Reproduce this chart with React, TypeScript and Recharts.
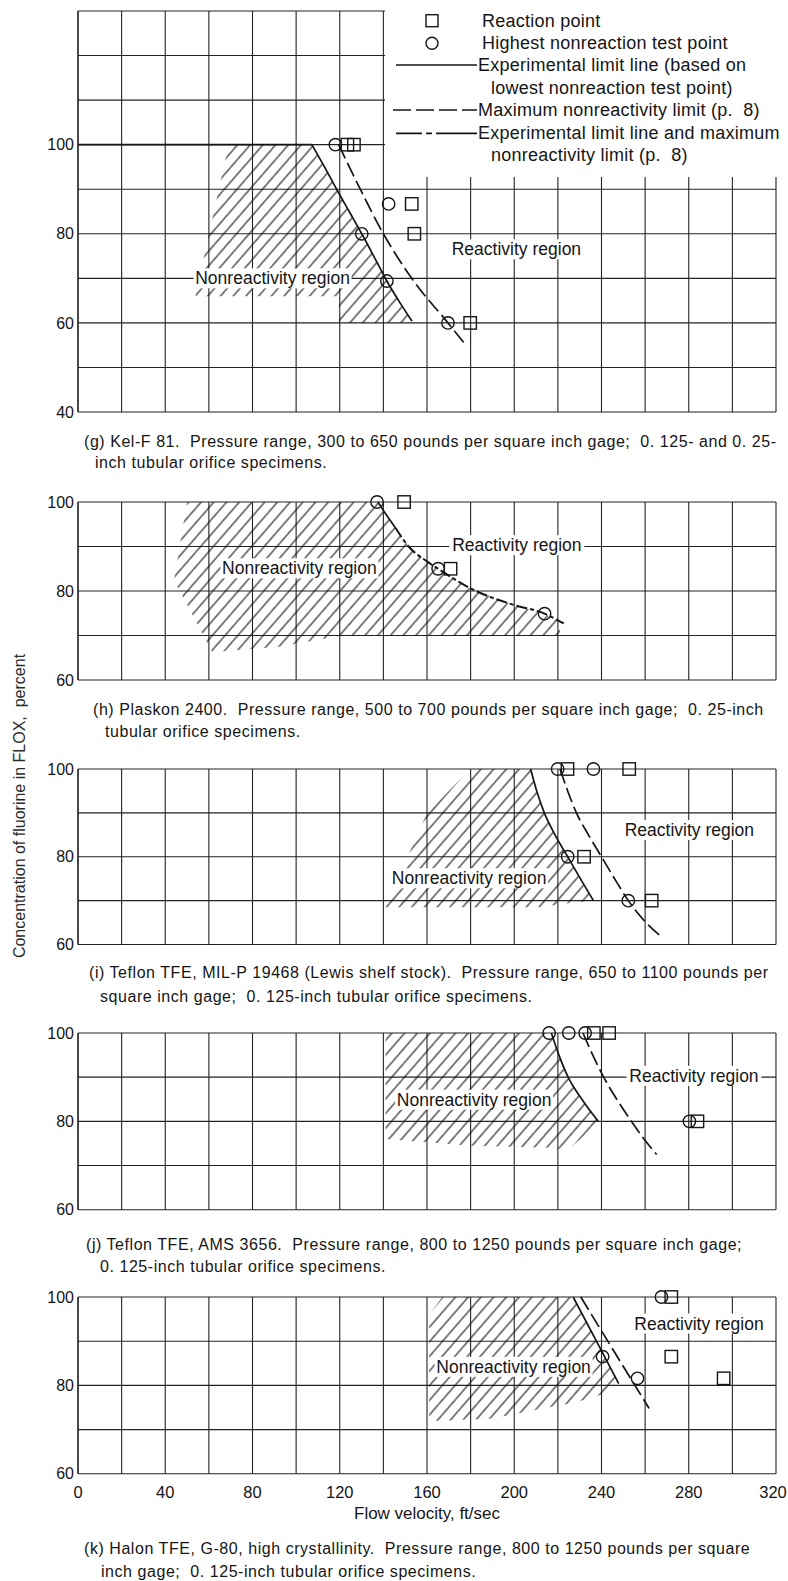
import React from 'react';
import { ComposedChart, XAxis, YAxis, CartesianGrid, Area, Line, Scatter, ReferenceDot } from 'recharts';

const FONT = "'Liberation Sans', Arial, sans-serif";
const INK = '#151515';

// shared axes
const X_GRID = [0, 20, 40, 60, 80, 100, 120, 140, 160, 180, 200, 220, 240, 260, 280, 300, 320];
const X_LABELS = [0, 40, 80, 120, 160, 200, 240, 280, 320];
const Y_GRID_G = [40, 50, 60, 70, 80, 90, 100, 110, 120, 130];
const Y_LABELS_G = [40, 60, 80, 100];
const Y_GRID = [60, 70, 80, 90, 100];
const Y_LABELS = [60, 80, 100];

type Pt = { x: number; y: number };
type HatchPt = { x: number; r: [number, number] };

// (g) Kel-F 81
const gReaction: Pt[] = [{ x: 123.5, y: 100 }, { x: 126.5, y: 100 }, { x: 153, y: 86.7 }, { x: 154.2, y: 80 }, { x: 179.8, y: 60 }];
const gNonreaction: Pt[] = [{ x: 118, y: 100 }, { x: 142.4, y: 86.7 }, { x: 130.1, y: 80 }, { x: 141.6, y: 69.4 }, { x: 169.6, y: 60 }];
const gLimitFlat: Pt[] = [{ x: 0, y: 100 }, { x: 107.2, y: 100 }];
const gLimit: Pt[] = [
  { x: 107.2, y: 100 }, { x: 113, y: 95 }, { x: 119, y: 89.6 }, { x: 124.8, y: 84.6 }, { x: 130.1, y: 80 },
  { x: 136, y: 74.6 }, { x: 141.6, y: 69.4 }, { x: 147.5, y: 64.6 }, { x: 153.1, y: 60.4 },
];
const gMaxLimit: Pt[] = [
  { x: 119.5, y: 100 }, { x: 129.4, y: 90 }, { x: 140, y: 80 }, { x: 153, y: 70 }, { x: 169.6, y: 60 }, { x: 177, y: 55.5 },
];
const gHatch: HatchPt[] = [
  { x: 53.8, r: [66, 66] }, { x: 69, r: [66, 100] }, { x: 107.2, r: [66, 100] }, { x: 113, r: [66, 95] },
  { x: 119, r: [66, 89.6] }, { x: 119.5, r: [66, 89.2] }, { x: 119.6, r: [60, 89.1] }, { x: 124.8, r: [60, 84.6] },
  { x: 130.1, r: [60, 80] }, { x: 136, r: [60, 74.6] }, { x: 141.6, r: [60, 69.4] }, { x: 147.5, r: [60, 64.6] },
  { x: 153.1, r: [60.4, 60.4] },
];

// (h) Plaskon 2400
const hReaction: Pt[] = [{ x: 149.5, y: 100 }, { x: 170.8, y: 85 }];
const hNonreaction: Pt[] = [{ x: 137.1, y: 100 }, { x: 165.1, y: 85 }, { x: 213.9, y: 74.9 }];
const hLimitTop: Pt[] = [{ x: 137.5, y: 100 }, { x: 141.5, y: 97 }, { x: 145.5, y: 94.2 }];
const hLimit: Pt[] = [
  { x: 145.5, y: 94.2 }, { x: 151.6, y: 90 }, { x: 160.8, y: 86.4 }, { x: 165.1, y: 85 }, { x: 180.7, y: 80.4 },
  { x: 199, y: 77 }, { x: 213.9, y: 74.9 }, { x: 222.7, y: 72.7 },
];
const hHatch: HatchPt[] = [
  { x: 44, r: [82.4, 82.4] }, { x: 50, r: [76.9, 100] }, { x: 61.5, r: [66.3, 100] }, { x: 91.6, r: [67.4, 100] },
  { x: 121, r: [70, 100] }, { x: 137.5, r: [70, 100] }, { x: 141.5, r: [70, 97] }, { x: 145.5, r: [70, 94.2] },
  { x: 151.6, r: [70, 90] }, { x: 160.8, r: [70, 86.4] }, { x: 165.1, r: [70, 85] }, { x: 180.7, r: [70, 80.4] },
  { x: 199, r: [70, 77] }, { x: 213.9, r: [70, 74.9] }, { x: 221, r: [70, 73] },
];

// (i) Teflon TFE, MIL-P 19468
const iReaction: Pt[] = [{ x: 224.4, y: 100 }, { x: 252.7, y: 100 }, { x: 232, y: 80 }, { x: 263, y: 70 }];
const iNonreaction: Pt[] = [{ x: 219.9, y: 100 }, { x: 236.3, y: 100 }, { x: 224.5, y: 80 }, { x: 252.3, y: 70 }];
const iLimit: Pt[] = [
  { x: 207.5, y: 100 }, { x: 210.3, y: 95 }, { x: 213.8, y: 90 }, { x: 218.7, y: 85 }, { x: 224.5, y: 80 },
  { x: 230.3, y: 75 }, { x: 236.3, y: 70 },
];
const iMaxLimit: Pt[] = [
  { x: 221, y: 100 }, { x: 224.5, y: 95 }, { x: 228.5, y: 90 }, { x: 234, y: 85 }, { x: 240, y: 80 },
  { x: 246, y: 75 }, { x: 252.3, y: 70 }, { x: 259.5, y: 65.5 }, { x: 267.6, y: 61.7 },
];
const iHatch: HatchPt[] = [
  { x: 140.8, r: [68.5, 68.5] }, { x: 160, r: [68.5, 90] }, { x: 180, r: [68.5, 100] }, { x: 207.5, r: [68.5, 100] },
  { x: 210.3, r: [68.5, 95] }, { x: 213.8, r: [68.6, 90] }, { x: 218.7, r: [69, 85] }, { x: 224.5, r: [69.4, 80] },
  { x: 230.3, r: [69.7, 75] }, { x: 236.3, r: [70, 70] },
];

// (j) Teflon TFE, AMS 3656
const jReaction: Pt[] = [{ x: 236.5, y: 100 }, { x: 243.5, y: 100 }, { x: 284, y: 80 }];
const jNonreaction: Pt[] = [{ x: 216, y: 100 }, { x: 225, y: 100 }, { x: 232.5, y: 100 }, { x: 280.3, y: 80 }];
const jLimit: Pt[] = [{ x: 217, y: 100 }, { x: 220.5, y: 95 }, { x: 224.7, y: 90 }, { x: 231, y: 85 }, { x: 238.5, y: 80 }];
const jMaxLimit: Pt[] = [
  { x: 231.5, y: 100 }, { x: 236, y: 95 }, { x: 241, y: 90 }, { x: 247, y: 85 }, { x: 253.7, y: 80 },
  { x: 259.5, y: 76 }, { x: 265.3, y: 72.5 },
];
const jHatch: HatchPt[] = [
  { x: 141, r: [76, 100] }, { x: 180, r: [74.5, 100] }, { x: 217, r: [74, 100] }, { x: 220.5, r: [73.8, 95] },
  { x: 224.7, r: [73.6, 90] }, { x: 231, r: [76.3, 85] }, { x: 238.5, r: [80, 80] },
];

// (k) Halon TFE, G-80
const kReaction: Pt[] = [{ x: 272, y: 100 }, { x: 272, y: 86.5 }, { x: 296, y: 81.6 }];
const kNonreaction: Pt[] = [{ x: 267.5, y: 100 }, { x: 240.5, y: 86.5 }, { x: 256.5, y: 81.6 }];
const kLimit: Pt[] = [{ x: 227, y: 100 }, { x: 237.5, y: 90.2 }, { x: 247.9, y: 80.4 }];
const kMaxLimit: Pt[] = [{ x: 230.5, y: 100 }, { x: 246, y: 87.5 }, { x: 261.8, y: 74.8 }];
const kHatch: HatchPt[] = [
  { x: 161, r: [72, 96] }, { x: 167, r: [72, 100] }, { x: 190, r: [72.5, 100] }, { x: 215, r: [75, 100] },
  { x: 227, r: [76, 100] }, { x: 237.5, r: [77.5, 90.2] }, { x: 243, r: [78.5, 85] }, { x: 247.9, r: [80.4, 80.4] },
];

type RegionLabel = { x: number; y: number; text: string };

const CircleMark = (p: any) => (
  <circle cx={p.cx} cy={p.cy} r={6.2} fill="none" stroke={INK} strokeWidth={1.4} />
);
const SquareMark = (p: any) => (
  <rect x={p.cx - 6.2} y={p.cy - 6.2} width={12.4} height={12.4} fill="none" stroke={INK} strokeWidth={1.4} />
);

const RegionText = ({ cx, cy, text }: { cx: number; cy: number; text: string }) => {
  const w = text.length * 7.7 + 4;
  return (
    <g>
      <rect x={cx - w / 2} y={cy - 10} width={w} height={20} fill="#fff" />
      <text x={cx} y={cy} textAnchor="middle" dominantBaseline="central" fontFamily={FONT} fontSize={17.5}
        fill={INK}>{text}</text>
    </g>
  );
};

// x tick text; the last label is nudged left so it stays on the page
const XTick = (p: any) => {
  const v = p.payload?.value;
  if (!X_LABELS.includes(v)) return <g />;
  return (
    <text x={p.x + (v === 320 ? -3 : 0)} y={p.y} dy="0.71em" textAnchor="middle" fontFamily={FONT} fontSize={16.5}
      fill={INK}>{String(v)}</text>
  );
};

interface PanelProps {
  id: string;
  plotTop: number;
  plotBottom: number;
  yDomain: [number, number];
  yGrid: number[];
  yLabels: number[];
  hatch: HatchPt[];
  solid: Pt[][];
  dashed?: Pt[];
  mixed?: Pt[];
  circles: Pt[];
  squares: Pt[];
  labels: RegionLabel[];
  showX?: boolean;
}

function Panel(props: PanelProps) {
  const { id, plotTop, plotBottom, yDomain, yGrid, yLabels, hatch, solid, dashed, mixed, circles, squares, labels, showX } = props;
  const MT = 10;
  const MB = showX ? 2 : 10;
  const xh = showX ? 50 : 4;
  const height = plotBottom - plotTop + MT + MB + xh;
  return (
    <div style={{ position: 'absolute', left: 0, top: plotTop - MT }}>
      <ComposedChart width={788} height={height} margin={{ top: MT, right: 12, bottom: MB, left: 0 }}>
        <defs>
          <pattern id={`hatch-${id}`} width={9.6} height={10} patternUnits="userSpaceOnUse" patternTransform="rotate(41)">
            <line x1={4.8} y1={-1} x2={4.8} y2={11} stroke={INK} strokeWidth={1.1} />
          </pattern>
        </defs>
        <CartesianGrid stroke="#222" strokeWidth={1.1} />
        <XAxis
          type="number"
          dataKey="x"
          domain={[0, 320]}
          ticks={X_GRID}
          interval={0}
          axisLine={false}
          tickLine={false}
          height={xh}
          tick={showX ? <XTick /> : { fontSize: 1 }}
          tickFormatter={() => ''}
          tickSize={6}
          tickMargin={6}
          label={showX ? { value: 'Flow velocity,  ft/sec', position: 'insideBottom', offset: 5, fill: INK, fontSize: 17, fontFamily: FONT, style: { whiteSpace: 'pre' } } : undefined}
        />
        <YAxis
          type="number"
          dataKey="y"
          domain={yDomain}
          ticks={yGrid}
          interval={0}
          width={78}
          tickLine={false}
          axisLine={{ stroke: '#222', strokeWidth: 1.2 }}
          tick={{ fill: INK, fontSize: 16, fontFamily: FONT }}
          tickFormatter={(v: number) => (yLabels.includes(v) ? String(v) : '')}
          tickSize={2}
          tickMargin={2}
        />
        <Area data={hatch} dataKey="r" type="linear" stroke="none" fill={`url(#hatch-${id})`} fillOpacity={1}
          dot={false} activeDot={false} isAnimationActive={false} />
        {labels.map((l, i) => (
          <ReferenceDot key={`lab-${i}`} x={l.x} y={l.y} r={0} ifOverflow="visible"
            shape={(p: any) => <RegionText cx={p.cx} cy={p.cy} text={l.text} />} />
        ))}
        {solid.map((seg, i) => (
          <Line key={`s-${i}`} data={seg} dataKey="y" type={seg.length > 2 ? 'monotone' : 'linear'} stroke={INK}
            strokeWidth={1.7} dot={false} activeDot={false} isAnimationActive={false} />
        ))}
        {dashed && (
          <Line data={dashed} dataKey="y" type="monotone" stroke={INK} strokeWidth={1.7} strokeDasharray="15 5"
            dot={false} activeDot={false} isAnimationActive={false} />
        )}
        {mixed && (
          <Line data={mixed} dataKey="y" type="monotone" stroke={INK} strokeWidth={2} strokeDasharray="11 3 4 3"
            dot={false} activeDot={false} isAnimationActive={false} />
        )}
        <Scatter data={circles} shape={CircleMark} isAnimationActive={false} />
        <Scatter data={squares} shape={SquareMark} isAnimationActive={false} />
      </ComposedChart>
    </div>
  );
}

const Caption = ({ lines }: { lines: { x: number; y: number; text: string }[] }) => (
  <>
    {lines.map((l, i) => (
      <div key={i} style={{
        position: 'absolute', left: l.x, top: l.y - 11, height: 22, lineHeight: '22px', whiteSpace: 'pre',
        fontFamily: FONT, fontSize: 16, letterSpacing: 0.55, color: INK,
      }}>{l.text}</div>
    ))}
  </>
);

function LegendBox() {
  const ox = 385;
  const oy = 9;
  const w = 401;
  const t = (x: number, y: number, s: string) => (
    <text x={x - ox} y={y - oy} dominantBaseline="central" fontFamily={FONT} fontSize={18} letterSpacing={0.25}
      fill={INK} style={{ whiteSpace: 'pre' }}>{s}</text>
  );
  return (
    <div style={{ position: 'absolute', left: ox, top: oy, width: w, height: 168, background: '#fff' }}>
      <svg width={w} height={168}>
        <rect x={432 - ox - 6} y={20.7 - oy - 6} width={12} height={12} fill="none" stroke={INK} strokeWidth={1.4} />
        <circle cx={432 - ox} cy={43.3 - oy} r={6} fill="none" stroke={INK} strokeWidth={1.4} />
        <line x1={396 - ox} x2={477 - ox} y1={65 - oy} y2={65 - oy} stroke={INK} strokeWidth={1.7} />
        <line x1={393 - ox} x2={477 - ox} y1={110 - oy} y2={110 - oy} stroke={INK} strokeWidth={1.7} strokeDasharray="18 5" />
        <line x1={396 - ox} x2={477 - ox} y1={133.3 - oy} y2={133.3 - oy} stroke={INK} strokeWidth={1.7} strokeDasharray="26 4 6 4 60" />
        {t(482, 20.7, 'Reaction point')}
        {t(482, 43.3, 'Highest nonreaction test point')}
        {t(478, 65, 'Experimental limit line (based on')}
        {t(491, 88.3, 'lowest nonreaction test point)')}
        {t(478, 110, 'Maximum nonreactivity limit (p.  8)')}
        {t(478, 133.3, 'Experimental limit line and maximum')}
        {t(491, 155, 'nonreactivity limit (p.  8)')}
      </svg>
    </div>
  );
}

export default function App() {
  return (
    <div style={{ position: 'absolute', left: 0, top: 0, width: 788, height: 1581, background: '#fff', overflow: 'hidden' }}>
      <Panel id="g" plotTop={10.5} plotBottom={411.5} yDomain={[40, 130]} yGrid={Y_GRID_G} yLabels={Y_LABELS_G}
        hatch={gHatch} solid={[gLimitFlat, gLimit]} dashed={gMaxLimit} circles={gNonreaction} squares={gReaction}
        labels={[{ x: 201, y: 76.5, text: 'Reactivity region' }, { x: 89.2, y: 70, text: 'Nonreactivity region' }]} />
      <LegendBox />
      <Caption lines={[
        { x: 84, y: 441.7, text: '(g) Kel-F 81.  Pressure range, 300 to 650 pounds per square inch gage;  0. 125- and 0. 25-' },
        { x: 95, y: 463, text: 'inch tubular orifice specimens.' },
      ]} />

      <Panel id="h" plotTop={502} plotBottom={680} yDomain={[60, 100]} yGrid={Y_GRID} yLabels={Y_LABELS}
        hatch={hHatch} solid={[hLimitTop]} mixed={hLimit} circles={hNonreaction} squares={hReaction}
        labels={[{ x: 201.2, y: 90.3, text: 'Reactivity region' }, { x: 101.5, y: 85.1, text: 'Nonreactivity region' }]} />
      <Caption lines={[
        { x: 93, y: 710, text: '(h) Plaskon 2400.  Pressure range, 500 to 700 pounds per square inch gage;  0. 25-inch' },
        { x: 105, y: 731.7, text: 'tubular orifice specimens.' },
      ]} />

      <Panel id="i" plotTop={769} plotBottom={944.5} yDomain={[60, 100]} yGrid={Y_GRID} yLabels={Y_LABELS}
        hatch={iHatch} solid={[iLimit]} dashed={iMaxLimit} circles={iNonreaction} squares={iReaction}
        labels={[{ x: 280.3, y: 86.1, text: 'Reactivity region' }, { x: 179.3, y: 75.1, text: 'Nonreactivity region' }]} />
      <Caption lines={[
        { x: 89, y: 973, text: '(i) Teflon TFE, MIL-P 19468 (Lewis shelf stock).  Pressure range, 650 to 1100 pounds per' },
        { x: 100, y: 996.7, text: 'square inch gage;  0. 125-inch tubular orifice specimens.' },
      ]} />

      <Panel id="j" plotTop={1033.3} plotBottom={1210} yDomain={[60, 100]} yGrid={Y_GRID} yLabels={Y_LABELS}
        hatch={jHatch} solid={[jLimit]} dashed={jMaxLimit} circles={jNonreaction} squares={jReaction}
        labels={[{ x: 282.4, y: 90.3, text: 'Reactivity region' }, { x: 181.6, y: 84.9, text: 'Nonreactivity region' }]} />
      <Caption lines={[
        { x: 86, y: 1245, text: '(j) Teflon TFE, AMS 3656.  Pressure range, 800 to 1250 pounds per square inch gage;' },
        { x: 100, y: 1266.7, text: '0. 125-inch tubular orifice specimens.' },
      ]} />

      <Panel id="k" plotTop={1296.7} plotBottom={1473.5} yDomain={[60, 100]} yGrid={Y_GRID} yLabels={Y_LABELS}
        hatch={kHatch} solid={[kLimit]} dashed={kMaxLimit} circles={kNonreaction} squares={kReaction} showX
        labels={[{ x: 284.7, y: 94, text: 'Reactivity region' }, { x: 199.7, y: 84.2, text: 'Nonreactivity region' }]} />
      <Caption lines={[
        { x: 84, y: 1549, text: '(k) Halon TFE, G-80, high crystallinity.  Pressure range, 800 to 1250 pounds per square' },
        { x: 101, y: 1571.7, text: 'inch gage;  0. 125-inch tubular orifice specimens.' },
      ]} />

      <div style={{
        position: 'absolute', left: 20, top: 806, transform: 'translate(-50%, -50%) rotate(-90deg)',
        whiteSpace: 'pre', fontFamily: FONT, fontSize: 16, color: '#2a2a2a',
      }}>Concentration of fluorine in FLOX,  percent</div>
    </div>
  );
}
